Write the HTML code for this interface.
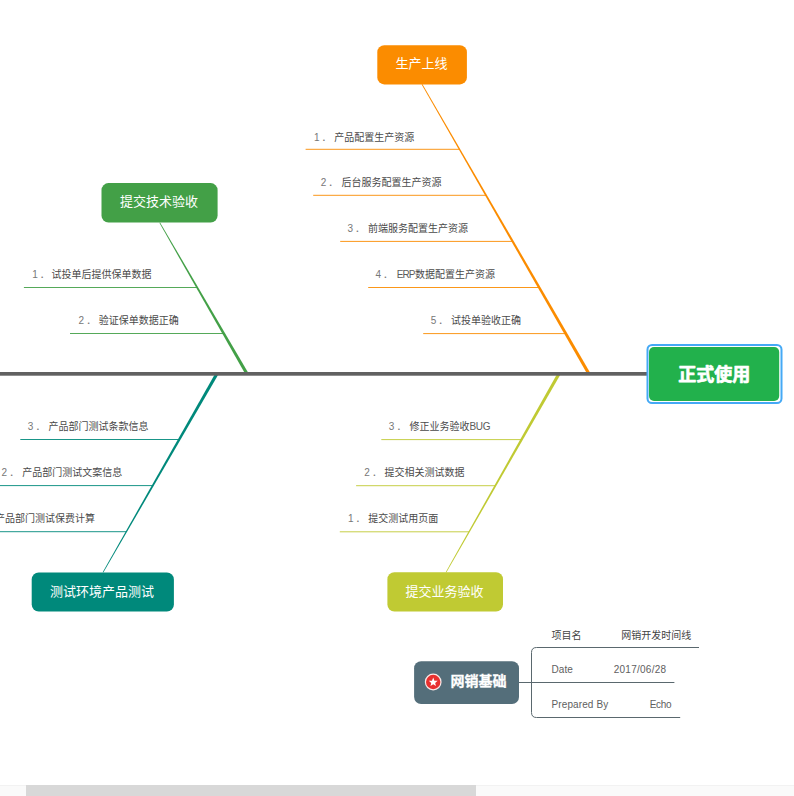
<!DOCTYPE html>
<html lang="zh-CN">
<head>
<meta charset="utf-8">
<title>网销开发时间线</title>
<style>
html,body{margin:0;padding:0;background:#fff;}
body{width:794px;height:796px;overflow:hidden;position:relative;font-family:"Liberation Sans", "Noto Sans CJK SC", sans-serif;}
svg{position:absolute;left:0;top:0;display:block;}
text{font-family:"Liberation Sans", "Noto Sans CJK SC", sans-serif;}
.sub{font-size:10px;fill:#4a4a4a;}
.n{fill:#777;}
.l{fill:#5c5c5c;}
.title{font-size:13px;fill:#fff;}
.head{font-size:18px;font-weight:bold;fill:#fff;stroke:#fff;stroke-width:0.7px;stroke-linejoin:round;}
.ftitle{font-size:14px;font-weight:bold;fill:#fff;stroke:#fff;stroke-width:0.3px;}
.tbl{font-size:10px;fill:#444;}
.lat{fill:#606060;}
.sbtrack{position:absolute;left:0;top:785px;width:794px;height:11px;background:#fafafa;box-shadow:inset 0 1px 0 #f2f2f2;}
.sbthumb{position:absolute;left:26px;top:0;width:450px;height:11px;background:#d8d8d8;}
</style>
</head>
<body>
<svg width="794" height="796" viewBox="0 0 794 796">
<line x1="305.6" y1="149.3" x2="459.5" y2="149.3" stroke="#FB8C00" stroke-width="1" stroke-opacity="0.9"/>
<text class="sub" y="141.0"><tspan class="n" x="313.9">1</tspan><tspan class="n" x="321.5">．</tspan><tspan x="334.3">产品配置生产资源</tspan></text>
<line x1="313.2" y1="195.3" x2="486.1" y2="195.3" stroke="#FB8C00" stroke-width="1" stroke-opacity="0.9"/>
<text class="sub" y="186.0"><tspan class="n" x="320.7">2</tspan><tspan class="n" x="328.3">．</tspan><tspan x="341.6">后台服务配置生产资源</tspan></text>
<line x1="340.2" y1="241.4" x2="512.6" y2="241.4" stroke="#FB8C00" stroke-width="1" stroke-opacity="0.9"/>
<text class="sub" y="232.0"><tspan class="n" x="347.4">3</tspan><tspan class="n" x="355.0">．</tspan><tspan x="368.0">前端服务配置生产资源</tspan></text>
<line x1="368.2" y1="287.5" x2="539.2" y2="287.5" stroke="#FB8C00" stroke-width="1" stroke-opacity="0.9"/>
<text class="sub" y="278.0"><tspan class="n" x="375.5">4</tspan><tspan class="n" x="383.1">．</tspan><tspan class="l" x="396.7" style="letter-spacing:-0.9px">ERP</tspan><tspan x="415.0">数据配置生产资源</tspan></text>
<line x1="423.2" y1="333.6" x2="565.8" y2="333.6" stroke="#FB8C00" stroke-width="1" stroke-opacity="0.9"/>
<text class="sub" y="324.0"><tspan class="n" x="430.7">5</tspan><tspan class="n" x="438.3">．</tspan><tspan x="451.1">试投单验收正确</tspan></text>
<polygon points="421.65,84.40 587.81,375.00 590.59,373.40 422.35,84.00" fill="#FB8C00"/>
<rect x="377.3" y="45.2" width="89.6" height="39.2" rx="7" ry="7" fill="#FB8C00"/>
<text class="title" x="421.4" y="68.4" text-anchor="middle">生产上线</text>
<line x1="23.9" y1="287.5" x2="197.2" y2="287.5" stroke="#43A047" stroke-width="1" stroke-opacity="0.9"/>
<text class="sub" y="278.0"><tspan class="n" x="32.2">1</tspan><tspan class="n" x="39.8">．</tspan><tspan x="51.6">试投单后提供保单数据</tspan></text>
<line x1="70.0" y1="333.5" x2="223.7" y2="333.5" stroke="#43A047" stroke-width="1" stroke-opacity="0.9"/>
<text class="sub" y="324.0"><tspan class="n" x="78.6">2</tspan><tspan class="n" x="86.2">．</tspan><tspan x="98.7">验证保单数据正确</tspan></text>
<polygon points="159.35,222.80 245.41,374.30 248.19,372.70 160.05,222.40" fill="#43A047"/>
<rect x="101.5" y="183.1" width="116.1" height="39.5" rx="7" ry="7" fill="#43A047"/>
<text class="title" x="158.9" y="206.4" text-anchor="middle">提交技术验收</text>
<line x1="20.3" y1="439.5" x2="179.2" y2="439.5" stroke="#00897B" stroke-width="1" stroke-opacity="0.9"/>
<text class="sub" y="430.0"><tspan class="n" x="27.8">3</tspan><tspan class="n" x="35.4">．</tspan><tspan x="48.4">产品部门测试条款信息</tspan></text>
<line x1="-10.0" y1="485.6" x2="152.8" y2="485.6" stroke="#00897B" stroke-width="1" stroke-opacity="0.9"/>
<text class="sub" y="476.0"><tspan class="n" x="1.6">2</tspan><tspan class="n" x="9.2">．</tspan><tspan x="22.2">产品部门测试文案信息</tspan></text>
<line x1="-10.0" y1="531.7" x2="126.3" y2="531.7" stroke="#00897B" stroke-width="1" stroke-opacity="0.9"/>
<text class="sub" y="522.0"><tspan class="n" x="-25.0">1</tspan><tspan class="n" x="-17.4">．</tspan><tspan x="-4.9">产品部门测试保费计算</tspan></text>
<polygon points="103.35,572.60 217.89,375.30 215.11,373.70 102.65,572.20" fill="#00897B"/>
<rect x="31.7" y="572.4" width="142.2" height="39.2" rx="7" ry="7" fill="#00897B"/>
<text class="title" x="102.1" y="595.6" text-anchor="middle">测试环境产品测试</text>
<line x1="381.3" y1="439.6" x2="521.6" y2="439.6" stroke="#C0CA33" stroke-width="1" stroke-opacity="0.9"/>
<text class="sub" y="430.0"><tspan class="n" x="388.8">3</tspan><tspan class="n" x="396.4">．</tspan><tspan x="409.4">修正业务验收</tspan><tspan class="l" x="469.5" style="letter-spacing:-0.3px">BUG</tspan></text>
<line x1="356.1" y1="485.7" x2="495.3" y2="485.7" stroke="#C0CA33" stroke-width="1" stroke-opacity="0.9"/>
<text class="sub" y="476.0"><tspan class="n" x="364.3">2</tspan><tspan class="n" x="371.9">．</tspan><tspan x="384.6">提交相关测试数据</tspan></text>
<line x1="339.8" y1="531.8" x2="469.1" y2="531.8" stroke="#C0CA33" stroke-width="1" stroke-opacity="0.9"/>
<text class="sub" y="522.0"><tspan class="n" x="348.0">1</tspan><tspan class="n" x="355.6">．</tspan><tspan x="368.2">提交测试用页面</tspan></text>
<polygon points="446.35,572.60 560.29,374.79 557.51,373.21 445.65,572.20" fill="#C0CA33"/>
<rect x="387.4" y="572.2" width="115.6" height="39.4" rx="7" ry="7" fill="#C0CA33"/>
<text class="title" x="444.5" y="595.5" text-anchor="middle">提交业务验收</text>
<rect x="-5" y="372" width="654" height="3.7" fill="#616161"/>
<rect x="647.5" y="345" width="134" height="58" rx="4.5" ry="4.5" fill="#fff" stroke="#45A9F5" stroke-width="2"/>
<rect x="649" y="347" width="130.2" height="54" rx="5" ry="5" fill="#22B14C"/>
<text class="head" x="714.3" y="381.3" text-anchor="middle">正式使用</text>
<path d="M518.5 682.5 H674.4" stroke="#5A686E" stroke-width="1" fill="none"/>
<path d="M699 647.5 H536.5 Q531.5 647.5 531.5 652.5 V712.5 Q531.5 717.5 536.5 717.5 H680.2" stroke="#5A686E" stroke-width="1" fill="none"/>
<rect x="414.1" y="661.2" width="104.9" height="42.8" rx="7" ry="7" fill="#546E7A"/>
<circle cx="433.2" cy="682" r="8.4" fill="#FBE9E7"/>
<circle cx="433.2" cy="682" r="7.2" fill="#E8302F"/>
<polygon points="433.20,677.60 434.40,680.64 437.67,680.85 435.15,682.93 435.96,686.10 433.20,684.35 430.44,686.10 431.25,682.93 428.73,680.85 432.00,680.64" fill="#fff"/>
<text class="ftitle" x="450.6" y="686">网销基础</text>
<text class="tbl" x="551.5" y="639">项目名</text>
<text class="tbl" x="621.3" y="639">网销开发时间线</text>
<text class="tbl lat" x="551.5" y="673" textLength="21.4">Date</text>
<text class="tbl lat" x="613.7" y="673" textLength="52.4">2017/06/28</text>
<text class="tbl lat" x="551.5" y="708" textLength="56.7">Prepared By</text>
<text class="tbl lat" x="649.7" y="708" textLength="21.9">Echo</text>
</svg>
<div class="sbtrack"><div class="sbthumb"></div></div>
</body>
</html>
